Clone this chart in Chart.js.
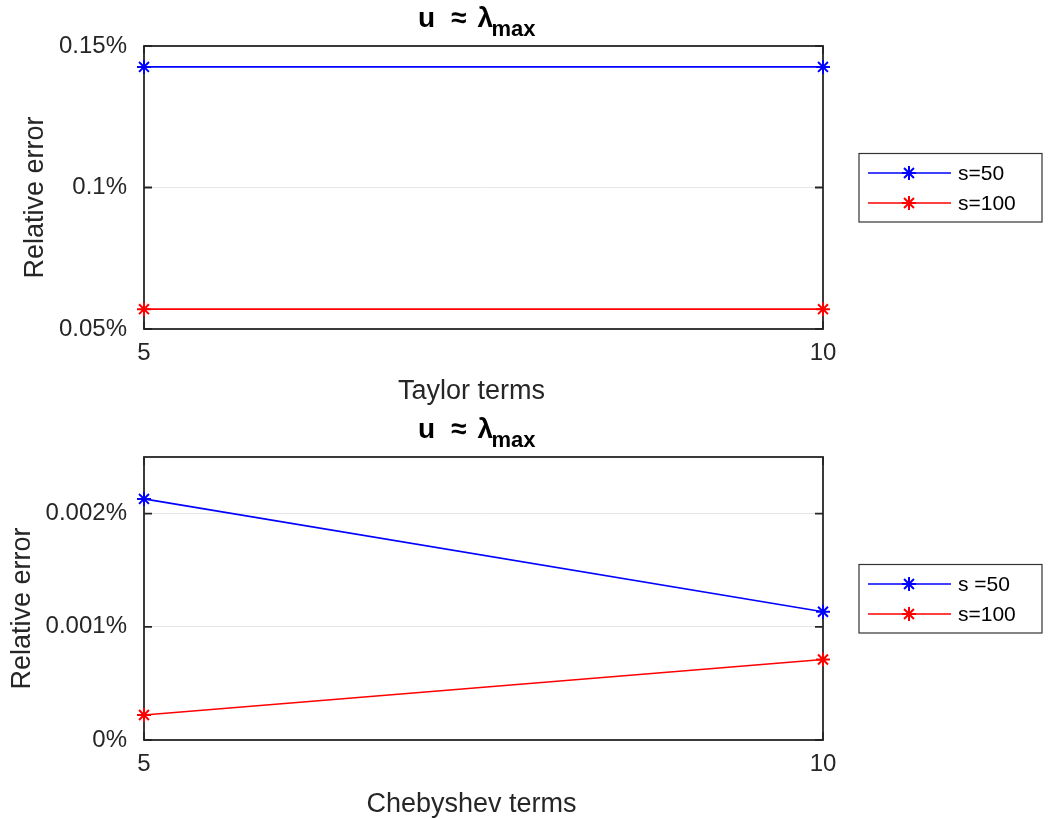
<!DOCTYPE html>
<html><head><meta charset="utf-8">
<script src="https://cdn.jsdelivr.net/npm/chart.js@4.4.0/dist/chart.umd.min.js"></script>
<style>
html,body{margin:0;padding:0;background:#fff;}
body{width:1050px;height:819px;position:relative;overflow:hidden;}
canvas{position:absolute;left:0;}
#c1{top:0;}
#c2{top:411px;}
</style></head><body>
<canvas id="c1" width="1050" height="411"></canvas>
<canvas id="c2" width="1050" height="408"></canvas>
<script>
// ---- data ----
const xTerms = [5, 10];
const xTickLabels = ['5', '10'];
const taylorNames = ['s=50', 's=100'];
const chebNames = ['s =50', 's=100'];
const taylorS50 = [0.1426, 0.1426];
const taylorS100 = [0.0570, 0.0570];
const chebS50 = [0.00213, 0.001133];
const chebS100 = [0.000221, 0.000711];
const taylorTicks = [0.05, 0.1, 0.15];
const taylorTickLabels = ['0.05%', '0.1%', '0.15%'];
const chebTicks = [0, 0.001, 0.002];
const chebTickLabels = ['0%', '0.001%', '0.002%'];
const taylorRange = [0.05, 0.15];
const chebRange = [0, 0.0025];

const FONT = '"Liberation Sans", Arial, Helvetica, sans-serif';
const AXIS = '#262626';
const BLUE = '#0000ff';
const RED = '#ff0000';

function drawStar(ctx, x, y, r, color) {
  ctx.save();
  ctx.strokeStyle = color; ctx.lineWidth = 2;
  ctx.beginPath();
  for (let k = 0; k < 4; k++) {
    const ang = k * Math.PI / 4;
    const dx = Math.cos(ang) * r, dy = Math.sin(ang) * r;
    ctx.moveTo(x - dx, y - dy); ctx.lineTo(x + dx, y + dy);
  }
  ctx.stroke();
  ctx.restore();
}

const matlabPlugin = {
  id: 'matlab',
  beforeDatasetsDraw(chart, args, o) {
    const {ctx, chartArea: a} = chart;
    const x = chart.scales.x, y = chart.scales.y;
    ctx.save();
    ctx.strokeStyle = AXIS; ctx.lineWidth = 1.8;
    ctx.beginPath();
    y.ticks.forEach(t => {
      const py = y.getPixelForValue(t.value);
      ctx.moveTo(a.left, py); ctx.lineTo(a.left + 8, py);
      ctx.moveTo(a.right, py); ctx.lineTo(a.right - 8, py);
    });
    x.ticks.forEach(t => {
      const px = x.getPixelForValue(t.value);
      ctx.moveTo(px, a.bottom); ctx.lineTo(px, a.bottom - 8);
      ctx.moveTo(px, a.top); ctx.lineTo(px, a.top + 8);
    });
    ctx.stroke();
    ctx.strokeRect(a.left, a.top, a.right - a.left, a.bottom - a.top);
    ctx.restore();
  },
  afterDraw(chart, args, o) {
    const {ctx, chartArea: a} = chart;
    const cx = (a.left + a.right) / 2;
    const cy = (a.top + a.bottom) / 2;
    ctx.save();
    // title
    ctx.fillStyle = '#000';
    ctx.textAlign = 'left';
    ctx.textBaseline = 'alphabetic';
    ctx.font = `bold 28px ${FONT}`;
    ctx.fillText('u', cx - 65.5, 27);
    ctx.fillText('\u2248', cx - 32.5, 27);
    ctx.fillText('\u03BB', cx - 6, 27);
    ctx.font = `bold 22px ${FONT}`;
    ctx.fillText('max', cx + 8, 36);
    // y title
    ctx.fillStyle = AXIS;
    ctx.font = `27px ${FONT}`;
    ctx.save();
    ctx.translate(o.yTitleX, cy + 10);
    ctx.rotate(-Math.PI / 2);
    ctx.textAlign = 'center';
    ctx.fillText(o.yTitle, 0, 0);
    ctx.restore();
    // x title
    ctx.textAlign = 'center';
    ctx.fillText(o.xTitle, cx - 12, a.bottom + o.xTitleOffset);
    // legend
    const lx = a.right + 36, lw = 183, lh = 68.5, ly = cy - 34;
    ctx.fillStyle = '#fff';
    ctx.fillRect(lx, ly, lw, lh);
    ctx.strokeStyle = '#333'; ctx.lineWidth = 1.2;
    ctx.strokeRect(lx, ly, lw, lh);
    const rows = [cy - 14.5, cy + 15.5];
    chart.data.datasets.forEach((ds, i) => {
      const ry = rows[i];
      ctx.strokeStyle = ds.borderColor; ctx.lineWidth = 1.6;
      ctx.beginPath(); ctx.moveTo(lx + 9, ry); ctx.lineTo(lx + 92, ry); ctx.stroke();
      drawStar(ctx, lx + 50, ry, 7, ds.borderColor);
      ctx.fillStyle = '#000';
      ctx.font = `21px ${FONT}`;
      ctx.textAlign = 'left';
      ctx.textBaseline = 'middle';
      ctx.fillText(ds.label, lx + 99, ry + 1);
    });
    ctx.restore();
  }
};

function makeDataset(label, vals, color) {
  return {
    label, data: xTerms.map((x, i) => ({x, y: vals[i]})),
    borderColor: color, backgroundColor: color, borderWidth: 1.7,
    pointStyle: 'star', pointRadius: 7, pointBorderWidth: 2,
    pointBorderColor: color, pointBackgroundColor: color,
    clip: false, tension: 0, fill: false
  };
}

function makeChart(id, H, names, s50, s100, range, tickVals, tickLabels, xTitle, xTitleOffset, yTitleX) {
  return new Chart(document.getElementById(id), {
    type: 'line',
    data: { datasets: [makeDataset(names[0], s50, BLUE), makeDataset(names[1], s100, RED)] },
    plugins: [matlabPlugin],
    options: {
      responsive: false, animation: false, devicePixelRatio: 1,
      layout: { padding: { top: 46, right: 227, left: 0, bottom: 0 } },
      plugins: {
        legend: { display: false }, title: { display: false }, tooltip: { enabled: false },
        matlab: { xTitle, yTitle: 'Relative error', xTitleOffset, yTitleX }
      },
      scales: {
        x: {
          type: 'linear', min: xTerms[0], max: xTerms[xTerms.length - 1],
          afterBuildTicks: s => { s.ticks = xTerms.map(v => ({value: v})); },
          afterFit: s => { s.height = H - 329; },
          grid: { display: false, drawTicks: false }, border: { display: false },
          ticks: { font: { family: FONT, size: 24 }, color: AXIS, padding: 10, maxRotation: 0, autoSkip: false,
                   callback: (v, i) => xTickLabels[i] }
        },
        y: {
          type: 'linear', min: range[0], max: range[1],
          afterBuildTicks: s => { s.ticks = tickVals.map(v => ({value: v})); },
          afterFit: s => { s.width = 144; },
          grid: { color: '#e6e6e6', lineWidth: 1, drawTicks: false }, border: { display: false },
          ticks: { font: { family: FONT, size: 24 }, color: AXIS, padding: 17, autoSkip: false,
                   callback: (v, i) => tickLabels[i] }
        }
      }
    }
  });
}

makeChart('c1', 411, taylorNames, taylorS50, taylorS100, taylorRange, taylorTicks, taylorTickLabels, 'Taylor terms', 70, 43);
makeChart('c2', 408, chebNames, chebS50, chebS100, chebRange, chebTicks, chebTickLabels, 'Chebyshev terms', 72, 30);
</script>
</body></html>
